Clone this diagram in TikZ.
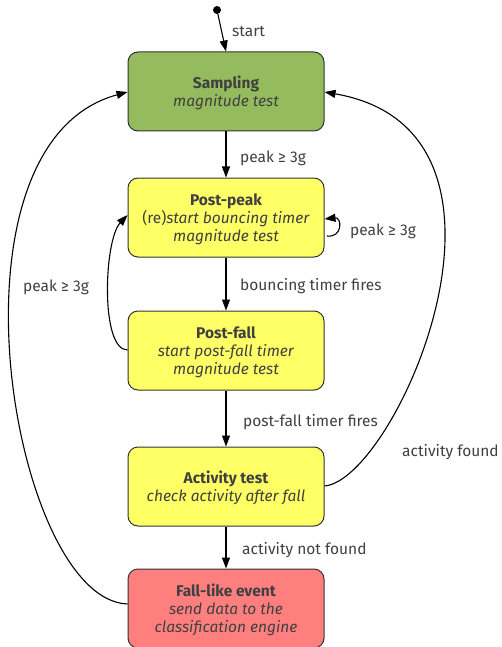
\documentclass[tikz,border=0pt]{standalone}
\usepackage{fontspec}
\setmainfont{Fira Sans}
\usetikzlibrary{arrows.meta}
\definecolor{txt}{HTML}{404040}
\definecolor{gfill}{HTML}{94BC5E}
\definecolor{yfill}{HTML}{FFFF66}
\definecolor{rfill}{HTML}{FF7F7F}
\definecolor{bord}{HTML}{333333}
\newcommand\tstrut{\rule{0pt}{15.5pt}}
\tikzset{
  box/.style={draw=bord, line width=1pt, rounded corners=10pt, minimum width=196pt, minimum height=79pt, inner sep=0pt, align=center, text=txt, font=\fontsize{15.5}{18}\selectfont},
  lab/.style={anchor=west, text=txt, inner sep=0pt, font=\fontsize{15.5}{18}\selectfont},
  arr/.style={line width=1.1pt, -{Triangle[length=11pt,width=8pt]}},
}
\begin{document}
\begin{tikzpicture}[x=1pt,y=-1pt]
\useasboundingbox (0,0) rectangle (502,647);
\node[box, fill=gfill] (samp) at (226,91.5) {\tstrut\textbf{Sampling}\\\textit{magnitude test}};
\node[box, fill=yfill] (pp) at (226,217.5) {\tstrut\textbf{Post-peak}\\(re)\textit{start bouncing timer}\\\textit{magnitude test}};
\node[box, fill=yfill] (pf) at (226,350.5) {\tstrut\textbf{Post-fall}\\\textit{start post-fall timer}\\\textit{magnitude test}};
\node[box, fill=yfill] (act) at (226,486.5) {\tstrut\textbf{Activity test}\\\textit{check activity after fall}};
\node[box, fill=rfill] (fall) at (226,608.5) {\tstrut\textbf{Fall-like event}\\\textit{send data to the}\\\textit{classification engine}};
\node[circle, fill=black, inner sep=0pt, minimum size=8pt] (start) at (217,10) {};
\coordinate (ppin) at (324.5,219);
\coordinate (ppout) at (327,236);
\coordinate (pfout) at (127.5,350);
\coordinate (ppleft) at (127.5,215);
\coordinate (fallout) at (127.5,604);
\coordinate (sampl) at (127.5,92);
\coordinate (actout) at (324.5,486);
\coordinate (sampr) at (324.5,92);

\draw[arr] (start) -- (samp.north);
\draw[arr] (samp) -- (pp);
\draw[arr] (pp) -- (pf);
\draw[arr] (pf) -- (act);
\draw[arr] (act) -- (fall);
\draw[arr] (ppout) .. controls (343,238) and (342,217) .. (ppin);
\draw[arr] (pfout) .. controls (100,350) and (104,240) .. (ppleft);
\draw[arr] (fallout) .. controls (12,600) and (-65,144) .. (sampl);
\draw[arr] (actout) .. controls (396,480) and (550,131) .. (sampr);

\node[lab] (l0) at (232,32) {start};
\node[lab] (l1) at (240,158) {peak ≥ 3g};
\node[lab] (l2) at (240,286) {bouncing timer fires};
\node[lab] (l3) at (243,422) {post-fall timer fires};
\node[lab] (l4) at (242,550) {activity not found};
\node[lab] (l5) at (350,231) {peak ≥ 3g};
\node[lab] (l6) at (23,287) {peak ≥ 3g};
\node[lab] (l7) at (402,452) {activity found};
\end{tikzpicture}
\end{document}
